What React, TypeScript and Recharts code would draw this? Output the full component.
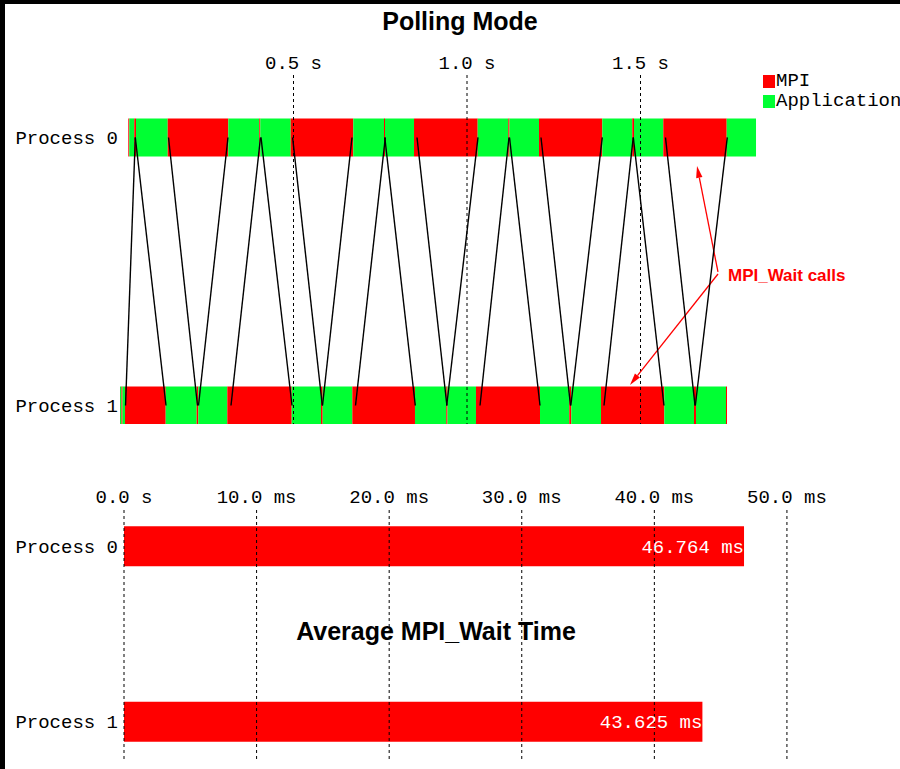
import React from 'react';
import { ComposedChart, Bar, XAxis, YAxis, Scatter, ReferenceLine, Cell, LabelList } from 'recharts';

const MPI_COLOR = '#ff0000';
const APP_COLOR = '#00ff33';
const MONO = '"Liberation Mono", "DejaVu Sans Mono", monospace';
const SANS = '"Liberation Sans", Arial, sans-serif';

// ---------- data ----------
const timelineTitle = 'Polling Mode';
const waitTitle = 'Average MPI_Wait Time';
const annotationText = 'MPI_Wait calls';
const processNames = ['Process 0', 'Process 1'];
const processRows = [0, 1]; // row index, Process 0 on top
const legendLabels = ['MPI', 'Application'];
const legendColors = [MPI_COLOR, APP_COLOR];
const timeTicks = [0.5, 1.0, 1.5];

// state-change times (s); states alternate starting with the first state
const process0Boundaries = [0.0239, 0.0268, 0.0412, 0.0461, 0.1375, 0.3121, 0.4014, 0.4043, 0.4919, 0.6723, 0.7608, 0.7637, 0.8473, 1.0308, 1.119, 1.1225, 1.2075, 1.3899, 1.4764, 1.4813, 1.5657, 1.7484, 1.8329];
const process0FirstState = 'MPI';
const process1Boundaries = [0, 0.0043, 0.0072, 0.0144, 0.1317, 0.221, 0.2256, 0.3092, 0.4948, 0.5793, 0.5841, 0.6695, 0.8501, 0.9403, 0.9438, 1.0259, 1.2104, 1.2948, 1.3006, 1.3862, 1.5686, 1.6542, 1.6599, 1.7464, 1.7493];
const process1FirstState = 'Application';

// messages: time on process 0 and time on process 1 (s)
const messageP0Times = [0.0441, 0.0441, 0.1398, 0.3112, 0.4049, 0.4063, 0.4974, 0.6686, 0.7646, 0.7631, 0.8559, 1.0317, 1.121, 1.1225, 1.2133, 1.3899, 1.479, 1.4793, 1.572, 1.7501];
const messageP1Times = [0.0159, 0.1326, 0.2233, 0.2262, 0.3199, 0.4957, 0.583, 0.5836, 0.6787, 0.851, 0.9421, 0.9415, 1.0375, 1.2104, 1.2983, 1.2992, 1.3948, 1.5677, 1.6571, 1.658];

// annotation arrows (data coordinates: time s, row)
const arrowTails = [[1.7233, 0.5019], [1.7233, 0.5093]];
const arrowHeads = [[1.6628, 0.1063], [1.4697, 0.9235]];

const waitTimesMs = [46.764, 43.625];
const waitTicks = [0, 10, 20, 30, 40, 50];
const waitTickLabels = ['0.0 s', '10.0 ms', '20.0 ms', '30.0 ms', '40.0 ms', '50.0 ms'];

// ---------- derived ----------
const timelineRows = [
  { boundaries: process0Boundaries, first: process0FirstState },
  { boundaries: process1Boundaries, first: process1FirstState },
];
const maxSegs = Math.max(...timelineRows.map((r) => r.boundaries.length - 1));
const segKeys = Array.from({ length: maxSegs }, (_, k) => `s${k}`);
const timelineData = timelineRows.map((r, i) => {
  const o: any = { name: processNames[i], row: processRows[i], offset: r.boundaries[0] };
  for (let k = 0; k < r.boundaries.length - 1; k++) o[`s${k}`] = r.boundaries[k + 1] - r.boundaries[k];
  return o;
});
const segColor = (rowIdx: number, k: number) => {
  const firstIsMpi = timelineRows[rowIdx].first === 'MPI';
  const isMpi = (k % 2 === 0) === firstIsMpi;
  return isMpi ? MPI_COLOR : APP_COLOR;
};
const messageData = messageP0Times.map((t0, i) => [
  { t: t0, row: processRows[0] },
  { t: messageP1Times[i], row: processRows[1] },
]);
const waitData = processNames.map((n, i) => ({ name: n, row: processRows[i], wait: waitTimesMs[i] }));
const rowLabel = (v: number) => processNames[processRows.indexOf(v)] ?? '';

const Arrow = (props: any) => {
  const { x1, y1, x2, y2 } = props;
  const dx = x2 - x1;
  const dy = y2 - y1;
  const len = Math.hypot(dx, dy) || 1;
  const ux = dx / len;
  const uy = dy / len;
  const L = 12;
  const W = 3.2;
  const bx = x2 - ux * L;
  const by = y2 - uy * L;
  const pts = `${x2},${y2} ${bx - uy * W},${by + ux * W} ${bx + uy * W},${by - ux * W}`;
  return (
    <g>
      <line x1={x1} y1={y1} x2={bx} y2={by} stroke={MPI_COLOR} strokeWidth={1.3} />
      <polygon points={pts} fill={MPI_COLOR} />
    </g>
  );
};

const tickStyle = { fill: '#000', fontSize: 19, fontFamily: MONO };

export default function App() {
  return (
    <div style={{ position: 'absolute', left: 0, top: 0, width: 900, height: 769, background: '#000', overflow: 'hidden' }}>
      <div style={{ position: 'absolute', left: 5, top: 4, right: 0, bottom: 0, background: '#fff' }} />

      {/* Timeline */}
      <div style={{ position: 'absolute', left: 0, top: 0 }}>
        <ComposedChart
          layout="vertical"
          width={900}
          height={430}
          data={timelineData}
          margin={{ top: 45, right: 86, bottom: 6, left: 0 }}
        >
          <XAxis
            type="number"
            orientation="top"
            domain={[0, 2]}
            ticks={timeTicks}
            allowDataOverflow
            axisLine={false}
            tickLine={false}
            tickSize={0}
            tickMargin={6}
            tick={tickStyle}
            tickFormatter={(v: number) => `${v.toFixed(1)} s`}
          />
          <YAxis
            type="number"
            dataKey="row"
            domain={[-0.233, 1.069]}
            ticks={[0, 1]}
            allowDataOverflow
            width={120}
            axisLine={false}
            tickLine={false}
            tickSize={0}
            tickMargin={2}
            tick={tickStyle}
            tickFormatter={rowLabel}
          />
          <Bar dataKey="offset" stackId="t" fill="transparent" barSize={38} isAnimationActive={false} />
          {segKeys.map((key, k) => (
            <Bar key={key} dataKey={key} stackId="t" barSize={38} isAnimationActive={false}>
              {timelineData.map((_, r) => (
                <Cell key={r} fill={segColor(r, k)} />
              ))}
            </Bar>
          ))}
          {timeTicks.map((t) => (
            <ReferenceLine key={`g${t}`} x={t} stroke="#000" strokeDasharray="3 3" strokeWidth={1} />
          ))}
          {messageData.map((pts, i) => (
            <Scatter
              key={`m${i}`}
              data={pts}
              dataKey="t"
              fill="#000"
              line={{ stroke: '#000', strokeWidth: 1.4 }}
              shape={() => <g />}
              isAnimationActive={false}
            />
          ))}
          {arrowTails.map((tail, i) => (
            <ReferenceLine
              key={`a${i}`}
              segment={[
                { x: tail[0], y: tail[1] },
                { x: arrowHeads[i][0], y: arrowHeads[i][1] },
              ]}
              shape={Arrow}
            />
          ))}
        </ComposedChart>
      </div>

      {/* Wait-time bars */}
      <div style={{ position: 'absolute', left: 0, top: 440 }}>
        <ComposedChart
          layout="vertical"
          width={900}
          height={329}
          data={waitData}
          margin={{ top: 40, right: 7, bottom: 9, left: 0 }}
        >
          <XAxis
            type="number"
            orientation="top"
            domain={[0, 58]}
            ticks={waitTicks}
            allowDataOverflow
            axisLine={false}
            tickLine={false}
            tickSize={0}
            tickMargin={7}
            tick={tickStyle}
            tickFormatter={(v: number) => waitTickLabels[waitTicks.indexOf(v)] ?? ''}
          />
          <YAxis
            type="number"
            dataKey="row"
            domain={[-0.2051, 1.2194]}
            ticks={[0, 1]}
            allowDataOverflow
            width={124}
            axisLine={false}
            tickLine={false}
            tickSize={0}
            tickMargin={6}
            tick={tickStyle}
            tickFormatter={rowLabel}
          />
          <Bar dataKey="wait" fill={MPI_COLOR} barSize={40} isAnimationActive={false}>
            <LabelList
              dataKey="wait"
              position="insideRight"
              offset={0}
              fill="#fff"
              fontSize={19}
              fontFamily={MONO}
              formatter={(v: any) => `${Number(v).toFixed(3)} ms`}
            />
          </Bar>
          {waitTicks.map((t) => (
            <ReferenceLine key={`w${t}`} x={t} stroke="#000" strokeDasharray="3 3" strokeWidth={1} />
          ))}
        </ComposedChart>
      </div>

      {/* Titles, legend, annotation */}
      <div style={{ position: 'absolute', left: 260, top: 9, width: 400, textAlign: 'center', fontFamily: SANS, fontWeight: 'bold', fontSize: 25, lineHeight: '25px', color: '#000' }}>
        {timelineTitle}
      </div>
      <div style={{ position: 'absolute', left: 236, top: 619, width: 400, textAlign: 'center', fontFamily: SANS, fontWeight: 'bold', fontSize: 25, lineHeight: '25px', color: '#000' }}>
        {waitTitle}
      </div>
      <div style={{ position: 'absolute', left: 763, top: 71, width: 160 }}>
        {legendLabels.map((l, i) => (
          <div key={l} style={{ display: 'flex', alignItems: 'center', height: 20 }}>
            <div style={{ width: 12, height: 13, background: legendColors[i] }} />
            <span style={{ marginLeft: 1, fontFamily: MONO, fontSize: 19, lineHeight: '20px', color: '#000', whiteSpace: 'nowrap' }}>{l}</span>
          </div>
        ))}
      </div>
      <div style={{ position: 'absolute', left: 728, top: 267, fontFamily: SANS, fontWeight: 'bold', fontSize: 17, lineHeight: '17px', color: MPI_COLOR, whiteSpace: 'nowrap' }}>
        {annotationText}
      </div>
    </div>
  );
}
